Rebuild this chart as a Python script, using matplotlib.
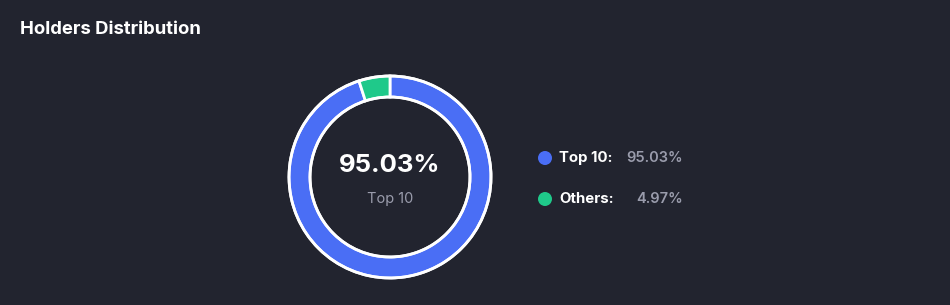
import matplotlib.pyplot as plt

# Data
labels = ['Top 10', 'Others']
shares = [95.03, 4.97]
colors = ['#4a6ef5', '#1fc98a']

bg = '#22242f'
grey = '#9a9cac'

plt.rcParams['font.family'] = ['Inter', 'DejaVu Sans']

fig = plt.figure(figsize=(9.5, 3.05), dpi=100, facecolor=bg)
ax = fig.add_axes([0, 0, 1, 1])
ax.set_facecolor(bg)

H = 305
cx, cy = 390, H - 177
r_out = 101
ring = 21

ax.pie(shares, colors=colors, startangle=90, counterclock=False,
       center=(cx, cy), radius=r_out, frame=True,
       wedgeprops=dict(width=ring, edgecolor='white', linewidth=2))
# white outline on inner and outer edge
ax.add_patch(plt.Circle((cx, cy), r_out - ring, fill=False, ec='white', lw=2))
ax.add_patch(plt.Circle((cx, cy), r_out, fill=False, ec='white', lw=2))

ax.set_xlim(0, 950)
ax.set_ylim(0, H)
ax.set_aspect('equal')
ax.axis('off')

# Title
ax.text(20, H - 30, 'Holders Distribution', color='white', fontsize=13.3,
        fontweight='bold', ha='left', va='center')

# Center text
ax.text(cx, H - 166, f'{shares[0]:.2f}%', color='white', fontsize=18.5,
        fontweight='bold', ha='center', va='center')
ax.text(cx, H - 199, labels[0], color=grey, fontsize=10.5,
        ha='center', va='center')

# Legend
for i, (lab, val, col) in enumerate(zip(labels, shares, colors)):
    y = H - (158 + i * 41)
    ax.add_patch(plt.Circle((545, y), 7, color=col, lw=0))
    ax.text(559, y, lab + ':', color='white', fontsize=10.8,
            fontweight='bold', ha='left', va='center')
    ax.text(683, y, f'{val:.2f}%', color=grey, fontsize=10.5,
            fontweight='semibold', ha='right', va='center')

fig.savefig('out.png', dpi=100, facecolor=bg)
